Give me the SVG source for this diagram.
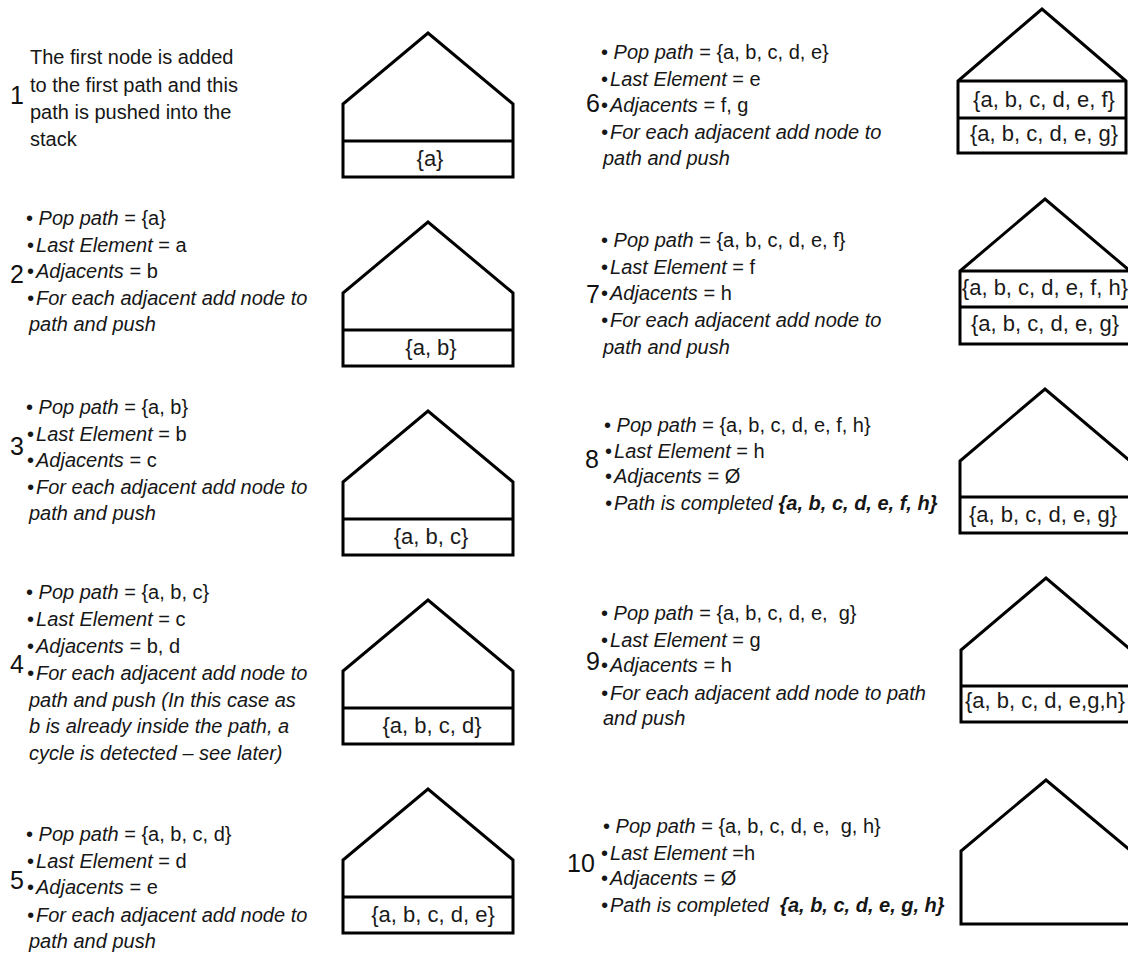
<svg xmlns="http://www.w3.org/2000/svg" width="1128" height="954" viewBox="0 0 1128 954">
<style>
.t{font-family:"Liberation Sans",Arial,sans-serif;font-size:20px;fill:#161616}
.i{font-style:italic}
.bi{font-style:italic;font-weight:bold}
.num{font-family:"Liberation Sans",Arial,sans-serif;font-size:25px;fill:#111}
.lbl{font-family:"Liberation Sans",Arial,sans-serif;font-size:22px;fill:#1a1a1a;text-anchor:middle}
.house{fill:#fff;stroke:#000;stroke-width:3;stroke-linejoin:miter}
.div{fill:none;stroke:#000;stroke-width:3}
</style>
<rect width="1128" height="954" fill="#fff"/>

<g id="step1">
<text class="num" x="10" y="104">1</text>
<text class="t" x="30" y="64">The first node is added</text>
<text class="t" x="30" y="92">to the first path and this</text>
<text class="t" x="30" y="119">path is pushed into the</text>
<text class="t" x="30" y="146">stack</text>
<path class="house" d="M343,177 V104 L428,33 L513,104 V177 Z"/>
<path class="div" d="M343,141 H513"/>
<text class="lbl" x="430" y="166">{a}</text>
</g>

<g id="step2">
<text class="num" x="10" y="283">2</text>
<text class="t" x="26" y="225">• <tspan class="i">Pop path</tspan> = {a}</text>
<text class="t" x="27" y="252">•<tspan class="i" dx="2">Last Element</tspan> = a</text>
<text class="t" x="27" y="278">•<tspan class="i" dx="2">Adjacents</tspan> = b</text>
<text class="t i" x="27" y="305">•<tspan dx="2">For each adjacent add node to</tspan></text>
<text class="t i" x="29" y="331">path and push</text>
<path class="house" d="M343,366 V293 L428,222 L513,293 V366 Z"/>
<path class="div" d="M343,330 H513"/>
<text class="lbl" x="431" y="355">{a, b}</text>
</g>

<g id="step3">
<text class="num" x="10" y="455">3</text>
<text class="t" x="26" y="414">• <tspan class="i">Pop path</tspan> = {a, b}</text>
<text class="t" x="27" y="441">•<tspan class="i" dx="2">Last Element</tspan> = b</text>
<text class="t" x="27" y="467">•<tspan class="i" dx="2">Adjacents</tspan> = c</text>
<text class="t i" x="27" y="494">•<tspan dx="2">For each adjacent add node to</tspan></text>
<text class="t i" x="29" y="520">path and push</text>
<path class="house" d="M343,555 V482 L428,411 L513,482 V555 Z"/>
<path class="div" d="M343,519 H513"/>
<text class="lbl" x="431" y="544">{a, b, c}</text>
</g>

<g id="step4">
<text class="num" x="10" y="673">4</text>
<text class="t" x="26" y="599">• <tspan class="i">Pop path</tspan> = {a, b, c}</text>
<text class="t" x="27" y="626">•<tspan class="i" dx="2">Last Element</tspan> = c</text>
<text class="t" x="27" y="653">•<tspan class="i" dx="2">Adjacents</tspan> = b, d</text>
<text class="t i" x="27" y="680">•<tspan dx="2">For each adjacent add node to</tspan></text>
<text class="t i" x="29" y="707">path and push (In this case as</text>
<text class="t i" x="29" y="733">b is already inside the path, a</text>
<text class="t i" x="29" y="760">cycle is detected – see later)</text>
<path class="house" d="M343,744 V671 L428,600 L513,671 V744 Z"/>
<path class="div" d="M343,708 H513"/>
<text class="lbl" x="432" y="733">{a, b, c, d}</text>
</g>

<g id="step5">
<text class="num" x="10" y="889">5</text>
<text class="t" x="26" y="841">• <tspan class="i">Pop path</tspan> = {a, b, c, d}</text>
<text class="t" x="27" y="868">•<tspan class="i" dx="2">Last Element</tspan> = d</text>
<text class="t" x="27" y="894">•<tspan class="i" dx="2">Adjacents</tspan> = e</text>
<text class="t i" x="27" y="922">•<tspan dx="2">For each adjacent add node to</tspan></text>
<text class="t i" x="29" y="948">path and push</text>
<path class="house" d="M343,933 V860 L428,789 L513,860 V933 Z"/>
<path class="div" d="M343,897 H513"/>
<text class="lbl" x="433" y="922">{a, b, c, d, e}</text>
</g>

<g id="step6">
<text class="num" x="586" y="112">6</text>
<text class="t" x="601" y="59">• <tspan class="i">Pop path</tspan> = {a, b, c, d, e}</text>
<text class="t" x="601" y="86">•<tspan class="i" dx="2">Last Element</tspan> = e</text>
<text class="t" x="601" y="112">•<tspan class="i" dx="2">Adjacents</tspan> = f, g</text>
<text class="t i" x="601" y="139">•<tspan dx="2">For each adjacent add node to</tspan></text>
<text class="t i" x="603" y="165">path and push</text>
<path class="house" d="M958,153 V81 L1042,9 L1126,81 V153 Z"/>
<path class="div" d="M958,81 H1126 M958,118 H1126"/>
<text class="lbl" x="1044" y="107">{a, b, c, d, e, f}</text>
<text class="lbl" x="1044" y="141">{a, b, c, d, e, g}</text>
</g>

<g id="step7">
<text class="num" x="586" y="303">7</text>
<text class="t" x="601" y="247">• <tspan class="i">Pop path</tspan> = {a, b, c, d, e, f}</text>
<text class="t" x="601" y="274">•<tspan class="i" dx="2">Last Element</tspan> = f</text>
<text class="t" x="601" y="300">•<tspan class="i" dx="2">Adjacents</tspan> = h</text>
<text class="t i" x="601" y="327">•<tspan dx="2">For each adjacent add node to</tspan></text>
<text class="t i" x="603" y="354">path and push</text>
<path class="house" d="M960,344 V271 L1045,199 L1130,271 V344 Z"/>
<path class="div" d="M960,271 H1130 M960,307 H1130"/>
<text class="lbl" x="1045" y="295">{a, b, c, d, e, f, h}</text>
<text class="lbl" x="1045" y="331">{a, b, c, d, e, g}</text>
</g>

<g id="step8">
<text class="num" x="585" y="468">8</text>
<text class="t" x="604" y="432">• <tspan class="i">Pop path</tspan> = {a, b, c, d, e, f, h}</text>
<text class="t" x="605" y="458">•<tspan class="i" dx="2">Last Element</tspan> = h</text>
<text class="t" x="605" y="483">•<tspan class="i" dx="2">Adjacents</tspan> = Ø</text>
<text class="t i" x="605" y="510">•<tspan dx="2">Path is completed </tspan><tspan class="bi">{a, b, c, d, e, f, h}</tspan></text>
<path class="house" d="M960,533 V461 L1045,389 L1130,461 V533 Z"/>
<path class="div" d="M960,497 H1130"/>
<text class="lbl" x="1043" y="522">{a, b, c, d, e, g}</text>
</g>

<g id="step9">
<text class="num" x="586" y="670">9</text>
<text class="t" x="601" y="620" xml:space="preserve">• <tspan class="i">Pop path</tspan> = {a, b, c, d, e,  g}</text>
<text class="t" x="601" y="647">•<tspan class="i" dx="2">Last Element</tspan> = g</text>
<text class="t" x="601" y="672">•<tspan class="i" dx="2">Adjacents</tspan> = h</text>
<text class="t i" x="601" y="700">•<tspan dx="2">For each adjacent add node to path</tspan></text>
<text class="t i" x="603" y="725">and push</text>
<path class="house" d="M961,722 V650 L1046,578 L1131,650 V722 Z"/>
<path class="div" d="M961,686 H1131"/>
<text class="lbl" x="1045" y="708">{a, b, c, d, e,g,h}</text>
</g>

<g id="step10">
<text class="num" x="567" y="872">10</text>
<text class="t" x="603" y="833" xml:space="preserve">• <tspan class="i">Pop path</tspan> = {a, b, c, d, e,  g, h}</text>
<text class="t" x="601" y="860">•<tspan class="i" dx="2">Last Element</tspan> =h</text>
<text class="t" x="601" y="885">•<tspan class="i" dx="2">Adjacents</tspan> = Ø</text>
<text class="t i" x="601" y="912" xml:space="preserve">•<tspan dx="2">Path is completed  </tspan><tspan class="bi">{a, b, c, d, e, g, h}</tspan></text>
<path class="house" d="M961,924 V851 L1046,780 L1131,851 V924 Z"/>
</g>
</svg>
